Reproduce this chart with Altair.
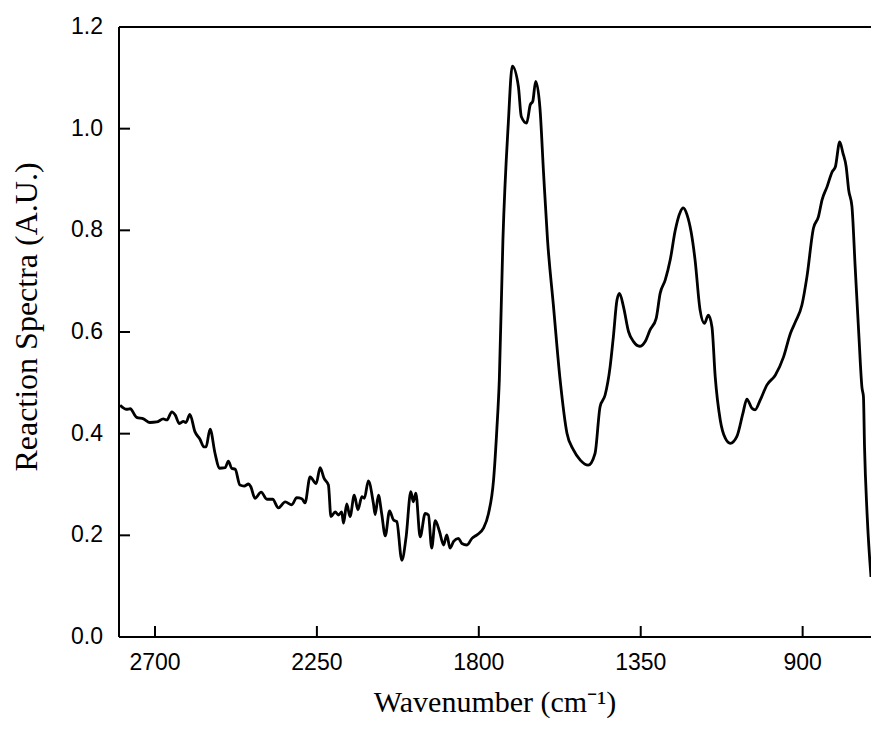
import altair as alt
import pandas as pd

# Values (wavenumber in cm^-1, reaction spectra in A.U.)
wavenumber = [
    2797, 2779, 2769, 2751, 2732, 2714, 2695, 2677, 2667, 2653, 2644, 2632, 2621, 2614,
    2603, 2589, 2575, 2564, 2558, 2547, 2533, 2521, 2505, 2496, 2487, 2477, 2464, 2452,
    2440, 2434, 2422, 2405, 2389, 2373, 2357, 2338, 2320, 2306, 2292, 2283, 2269, 2252,
    2241, 2230, 2218, 2211, 2199, 2190, 2181, 2176, 2167, 2158, 2146, 2136, 2125, 2118,
    2107, 2093, 2088, 2079, 2070, 2060, 2048, 2037, 2028, 2014, 2002, 1989, 1982, 1975,
    1963, 1949, 1940, 1931, 1921, 1909, 1898, 1889, 1880, 1870, 1857, 1847, 1833, 1819,
    1805, 1787, 1773, 1759, 1750, 1743, 1733, 1718, 1707, 1690, 1682, 1667, 1657, 1650,
    1642, 1630, 1620, 1609, 1593, 1574, 1555, 1537, 1518, 1496, 1477, 1463, 1449, 1435,
    1426, 1416, 1409, 1398, 1384, 1370, 1353, 1338, 1324, 1307, 1296, 1282, 1268, 1254,
    1240, 1232, 1221, 1210, 1199, 1185, 1173, 1162, 1152, 1143, 1129, 1115, 1101, 1083,
    1066, 1055, 1041, 1032, 1018, 999, 976, 953, 934, 920, 902, 888, 870, 856,
    846, 832, 818, 809, 797, 788, 779, 772, 763, 754, 744, 735, 731, 728,
    721, 710,
]
absorbance = [
    0.456, 0.448, 0.449, 0.432, 0.429, 0.422, 0.423, 0.429, 0.427, 0.443, 0.437, 0.420, 0.424, 0.422,
    0.438, 0.404, 0.389, 0.374, 0.374, 0.409, 0.361, 0.332, 0.333, 0.346, 0.332, 0.330, 0.299, 0.297,
    0.301, 0.296, 0.273, 0.285, 0.271, 0.271, 0.254, 0.266, 0.260, 0.274, 0.272, 0.264, 0.315, 0.302,
    0.333, 0.312, 0.299, 0.237, 0.246, 0.240, 0.246, 0.224, 0.262, 0.237, 0.279, 0.250, 0.276, 0.273,
    0.307, 0.263, 0.241, 0.279, 0.243, 0.199, 0.248, 0.230, 0.227, 0.151, 0.197, 0.286, 0.266, 0.283,
    0.197, 0.243, 0.240, 0.175, 0.229, 0.207, 0.181, 0.201, 0.175, 0.188, 0.194, 0.184, 0.181, 0.194,
    0.201, 0.214, 0.243, 0.309, 0.407, 0.506, 0.781, 1.011, 1.123, 1.083, 1.024, 1.011, 1.047, 1.054,
    1.093, 1.040, 0.912, 0.781, 0.655, 0.506, 0.401, 0.368, 0.348, 0.338, 0.361, 0.453, 0.476, 0.532,
    0.591, 0.663, 0.676, 0.650, 0.601, 0.581, 0.572, 0.581, 0.604, 0.627, 0.676, 0.702, 0.742, 0.800,
    0.836, 0.844, 0.830, 0.797, 0.742, 0.643, 0.617, 0.633, 0.610, 0.512, 0.427, 0.391, 0.381, 0.394,
    0.440, 0.468, 0.450, 0.447, 0.466, 0.496, 0.515, 0.551, 0.597, 0.620, 0.653, 0.709, 0.804, 0.827,
    0.860, 0.886, 0.915, 0.925, 0.974, 0.952, 0.925, 0.879, 0.847, 0.728, 0.597, 0.490, 0.473, 0.374,
    0.244, 0.118,
]
x_ticks = [2700, 2250, 1800, 1350, 900]
y_ticks = [0.2, 0.4, 0.6, 0.8, 1.0]
y_labels = [0.0, 0.2, 0.4, 0.6, 0.8, 1.0, 1.2]
x_domain = [2800, 710]
y_domain = [0.0, 1.2]
X_TITLE = "Wavenumber (cm⁻¹)"
Y_TITLE = "Reaction Spectra (A.U.)"

W, H = 752, 610
TICK_PX = 11
# tick lengths expressed in data units of each scale (11 px)
TICK_Y = TICK_PX * (y_domain[1] - y_domain[0]) / H
TICK_X = TICK_PX * (x_domain[0] - x_domain[1]) / W

df = pd.DataFrame({"wavenumber": wavenumber, "absorbance": absorbance})
xt = pd.DataFrame({"xt": x_ticks})
yt = pd.DataFrame({"yt": y_ticks})
yl = pd.DataFrame({"yl": y_labels})

xscale = alt.Scale(domain=x_domain, nice=False, zero=False)
yscale = alt.Scale(domain=y_domain, nice=False, zero=False)

# Main spectrum
spectrum = alt.Chart(df).mark_line(
    color="black", strokeWidth=2.8, clip=True, interpolate="monotone"
).encode(
    x=alt.X("wavenumber:Q", scale=xscale, axis=None),
    y=alt.Y("absorbance:Q", scale=yscale, axis=None),
    order=alt.Order("wavenumber:Q", sort="descending"),
)

# Inward-pointing tick marks on the bottom axis
x_tick_marks = alt.Chart(xt).mark_rule(color="black", strokeWidth=2).encode(
    x=alt.X("xt:Q", scale=xscale, axis=None),
    y=alt.datum(y_domain[0], scale=yscale, axis=None),
    y2=alt.datum(y_domain[0] + TICK_Y),
)

# Inward-pointing tick marks on the left axis
y_tick_marks = alt.Chart(yt).mark_rule(color="black", strokeWidth=2).encode(
    y=alt.Y("yt:Q", scale=yscale, axis=None),
    x=alt.datum(x_domain[0], scale=xscale, axis=None),
    x2=alt.datum(x_domain[0] - TICK_X),
)

# Frame: top, bottom and left edges of the plot
top_frame = alt.Chart().mark_rule(color="black", strokeWidth=2).encode(
    x=alt.datum(x_domain[0], scale=xscale, axis=None),
    x2=alt.datum(x_domain[1]),
    y=alt.datum(y_domain[1], scale=yscale, axis=None),
)
bottom_frame = alt.Chart().mark_rule(color="black", strokeWidth=2).encode(
    x=alt.datum(x_domain[0], scale=xscale, axis=None),
    x2=alt.datum(x_domain[1]),
    y=alt.datum(y_domain[0], scale=yscale, axis=None),
)
left_frame = alt.Chart().mark_rule(color="black", strokeWidth=2).encode(
    x=alt.datum(x_domain[0], scale=xscale, axis=None),
    y=alt.datum(y_domain[0], scale=yscale, axis=None),
    y2=alt.datum(y_domain[1]),
)

# Tick labels
x_tick_labels = alt.Chart(xt).mark_text(
    font="Liberation Sans", fontSize=23, color="black", align="center", baseline="top"
).encode(
    x=alt.X("xt:Q", scale=xscale, axis=None),
    y=alt.value(H + 15),
    text=alt.Text("xt:Q", format="d"),
)
y_tick_labels = alt.Chart(yl).mark_text(
    font="Liberation Sans", fontSize=23, color="black", align="right", baseline="middle"
).encode(
    y=alt.Y("yl:Q", scale=yscale, axis=None),
    x=alt.value(-16),
    text=alt.Text("yl:Q", format=".1f"),
)

# Axis titles
x_title = alt.Chart().mark_text(
    text=X_TITLE, font="Liberation Serif", fontSize=30, color="black",
    align="center", baseline="alphabetic",
).encode(x=alt.value(W / 2), y=alt.value(H + 75))
y_title = alt.Chart().mark_text(
    text=Y_TITLE, font="Liberation Serif", fontSize=32, color="black",
    align="center", baseline="alphabetic", angle=270,
).encode(x=alt.value(-82), y=alt.value(290))

chart = (
    alt.layer(
        spectrum, x_tick_marks, y_tick_marks, top_frame, bottom_frame, left_frame,
        x_tick_labels, y_tick_labels, x_title, y_title,
    )
    .properties(
        width=W,
        height=H,
        autosize=alt.AutoSizeParams(type="none"),
        padding={"left": 119, "top": 27, "right": 0, "bottom": 94},
        background="white",
    )
    .configure_view(stroke=None)
)

chart.save("out.html", embed_options={"renderer": "svg", "actions": False})
